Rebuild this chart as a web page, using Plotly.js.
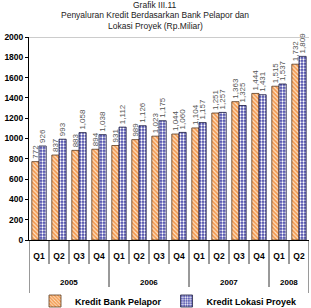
<!DOCTYPE html>
<html><head><meta charset="utf-8">
<script src="https://cdn.plot.ly/plotly-3.0.1.min.js"></script>
<style>html,body{margin:0;padding:0;background:#fff}#chart{width:311px;height:308px}</style>
</head><body><div id="chart"></div>
<script>
const years = ["2005","2005","2005","2005","2006","2006","2006","2006","2007","2007","2007","2007","2008","2008"];
const quarters = ["Q1","Q2","Q3","Q4","Q1","Q2","Q3","Q4","Q1","Q2","Q3","Q4","Q1","Q2"];
const bankPelapor = [772,837,883,894,931,989,1023,1044,1104,1251,1363,1444,1515,1732];
const lokasiProyek = [926,993,1058,1038,1112,1126,1175,1060,1157,1257,1325,1431,1537,1809];
const seriesNames = ["Kredit Bank Pelapor","Kredit Lokasi Proyek"];
const yTicks = [0,200,400,600,800,1000,1200,1400,1600,1800,2000];
const titleLines = ["Grafik III.11","Penyaluran Kredit Berdasarkan Bank Pelapor dan","Lokasi Proyek (Rp.Miliar)"];

const font = "'Liberation Sans', Arial, sans-serif";
const cats = years.map((y,i)=> y + ' ' + quarters[i]);

const common = {
  type:'bar', x:cats, textposition:'outside', textangle:-90,
  texttemplate:'%{y:,}', cliponaxis:false, constraintext:'none',
  textfont:{family:font,size:8,color:'#555'}
};
const traces = [
  Object.assign({}, common, {name:seriesNames[0], y:bankPelapor,
    marker:{color:'#f6a865', line:{color:'#5a3a20',width:0.8},
      pattern:{shape:'\\', fgcolor:'#fde3c8', bgcolor:'#f39a50', size:3, solidity:0.4}}}),
  Object.assign({}, common, {name:seriesNames[1], y:lokasiProyek,
    marker:{color:'#4848a8', line:{color:'#1a1a40',width:0.8},
      pattern:{shape:'.', fgcolor:'#ffffff', bgcolor:'#4444a8', size:3, solidity:0.45}}})
];

const PH = 203, PB = 240; // plot height / bottom in px
const py = p => (PB - p) / PH; // pixel row -> paper fraction

const shapes = [{type:'line', xref:'paper', yref:'y', x0:0, x1:1, y0:2000, y1:2000, line:{color:'#999',width:1}}];
const annotations = [];
const n = cats.length;
for (let i=0;i<=n;i++){
  const yearBoundary = (i===0 || i===n || years[i]!==years[i-1]);
  shapes.push({type:'line', xref:'x', yref:'paper', x0:i-0.5, x1:i-0.5, y0:0,
    y1: yearBoundary ? py(293) : py(264), line:{color:'#000', width:0.8}});
}
let start=0;
for (let i=1;i<=n;i++){
  if (i===n || years[i]!==years[start]){
    annotations.push({xref:'x', yref:'paper', x:(start+i-1)/2, y:py(282), text:years[start],
      showarrow:false, xanchor:'center', yanchor:'middle',
      font:{family:font,size:8,color:'#000',weight:'bold'}});
    start=i;
  }
}
titleLines.forEach((t,k)=>{
  annotations.push({xref:'paper', yref:'paper', x:0.45, y:py(5 + k*10.5), text:t, showarrow:false,
    xanchor:'center', yanchor:'middle', font:{family:font,size:8.5,color:'#222'}});
});

const layout = {
  width:311, height:308,
  margin:{l:29,r:2,t:37,b:68, autoexpand:false},
  paper_bgcolor:'#fff', plot_bgcolor:'#fff',
  barmode:'group', bargap:0.28, bargroupgap:0,
  showlegend:true,
  legend:{orientation:'h', x:0.5, xanchor:'center', y:py(301), yanchor:'middle',
    font:{family:font,size:9,color:'#000',weight:'bold'}, itemwidth:30, tracegroupgap:0},
  xaxis:{type:'category', tickvals:cats, ticktext:quarters, showline:true, linecolor:'#000', linewidth:1,
    ticks:'', ticklabelstandoff:8, automargin:false,
    tickfont:{family:font,size:8.5,color:'#000',weight:'bold'}, showgrid:false, range:[-0.5,n-0.5]},
  yaxis:{range:[0,2000], tickvals:yTicks, ticks:'outside', ticklen:3, tickcolor:'#000', automargin:false,
    showline:true, linecolor:'#000', linewidth:1, showgrid:false, zeroline:false,
    tickfont:{family:font,size:8.5,color:'#000',weight:'bold'}},
  shapes:shapes, annotations:annotations
};
Plotly.newPlot('chart', traces, layout, {displayModeBar:false, staticPlot:true});
</script></body></html>
